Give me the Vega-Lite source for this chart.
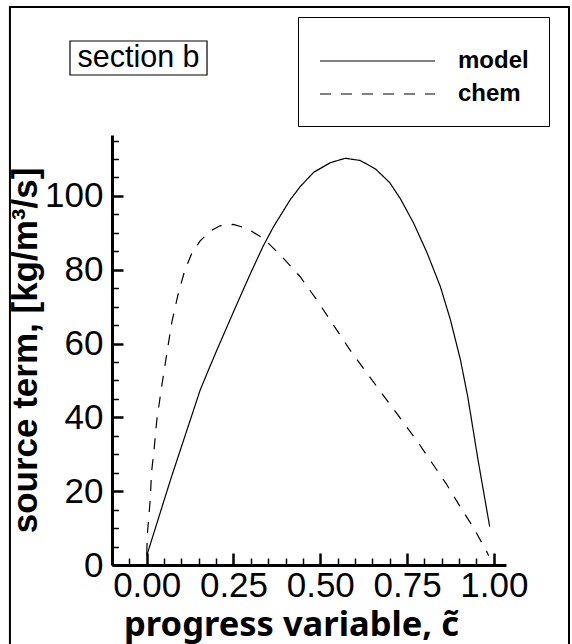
{
  "$schema": "https://vega.github.io/schema/vega-lite/v6.json",
  "width": 394,
  "height": 430,
  "autosize": {"type": "none"},
  "padding": {"left": 112, "top": 135, "right": 66, "bottom": 79},
  "background": "white",
  "config": {"view": {"stroke": null}, "font": "Liberation Sans"},
  "datasets": {
    "curves": [
      {"c": 0.0, "S": 2.5, "series": "model"},
      {"c": 0.07, "S": 23.5, "series": "model"},
      {"c": 0.154, "S": 47.4, "series": "model"},
      {"c": 0.18, "S": 53.3, "series": "model"},
      {"c": 0.202, "S": 58.2, "series": "model"},
      {"c": 0.25, "S": 68.6, "series": "model"},
      {"c": 0.298, "S": 78.8, "series": "model"},
      {"c": 0.336, "S": 86.5, "series": "model"},
      {"c": 0.365, "S": 91.6, "series": "model"},
      {"c": 0.413, "S": 98.9, "series": "model"},
      {"c": 0.442, "S": 102.5, "series": "model"},
      {"c": 0.481, "S": 106.4, "series": "model"},
      {"c": 0.529, "S": 109.0, "series": "model"},
      {"c": 0.572, "S": 110.2, "series": "model"},
      {"c": 0.615, "S": 109.6, "series": "model"},
      {"c": 0.659, "S": 107.3, "series": "model"},
      {"c": 0.7, "S": 103.6, "series": "model"},
      {"c": 0.731, "S": 99.2, "series": "model"},
      {"c": 0.769, "S": 92.6, "series": "model"},
      {"c": 0.808, "S": 84.5, "series": "model"},
      {"c": 0.846, "S": 75.4, "series": "model"},
      {"c": 0.875, "S": 66.4, "series": "model"},
      {"c": 0.904, "S": 55.5, "series": "model"},
      {"c": 0.925, "S": 45.5, "series": "model"},
      {"c": 0.954, "S": 28.7, "series": "model"},
      {"c": 0.988, "S": 10.4, "series": "model"},
      {"c": 0.0, "S": 3.0, "series": "chem"},
      {"c": 0.002, "S": 8.5, "series": "chem"},
      {"c": 0.01, "S": 17.5, "series": "chem"},
      {"c": 0.014, "S": 25.2, "series": "chem"},
      {"c": 0.021, "S": 31.1, "series": "chem"},
      {"c": 0.029, "S": 39.2, "series": "chem"},
      {"c": 0.043, "S": 48.3, "series": "chem"},
      {"c": 0.058, "S": 57.3, "series": "chem"},
      {"c": 0.072, "S": 65.6, "series": "chem"},
      {"c": 0.091, "S": 73.6, "series": "chem"},
      {"c": 0.11, "S": 79.9, "series": "chem"},
      {"c": 0.13, "S": 84.5, "series": "chem"},
      {"c": 0.154, "S": 87.8, "series": "chem"},
      {"c": 0.183, "S": 90.5, "series": "chem"},
      {"c": 0.211, "S": 91.9, "series": "chem"},
      {"c": 0.25, "S": 92.3, "series": "chem"},
      {"c": 0.288, "S": 91.2, "series": "chem"},
      {"c": 0.336, "S": 88.5, "series": "chem"},
      {"c": 0.385, "S": 84.0, "series": "chem"},
      {"c": 0.442, "S": 78.1, "series": "chem"},
      {"c": 0.49, "S": 71.8, "series": "chem"},
      {"c": 0.538, "S": 65.0, "series": "chem"},
      {"c": 0.586, "S": 58.2, "series": "chem"},
      {"c": 0.635, "S": 51.9, "series": "chem"},
      {"c": 0.682, "S": 45.9, "series": "chem"},
      {"c": 0.731, "S": 39.7, "series": "chem"},
      {"c": 0.781, "S": 33.3, "series": "chem"},
      {"c": 0.82, "S": 27.9, "series": "chem"},
      {"c": 0.863, "S": 22.0, "series": "chem"},
      {"c": 0.901, "S": 16.1, "series": "chem"},
      {"c": 0.94, "S": 10.3, "series": "chem"},
      {"c": 0.978, "S": 3.9, "series": "chem"},
      {"c": 0.985, "S": 2.5, "series": "chem"}
    ]
  },
  "resolve": {"axis": {"x": "independent", "y": "independent"}},
  "layer": [
    {
      "data": {"values": [{}]},
      "mark": {"type": "rect", "fill": null, "stroke": "black", "strokeWidth": 2},
      "encoding": {
        "x": {"datum": -0.394, "type": "quantitative", "scale": {"domain": [-0.1, 1.035]}, "axis": null},
        "x2": {"datum": 1.2165},
        "y": {"datum": 151.18, "type": "quantitative", "scale": {"domain": [0, 116.5]}, "axis": null},
        "y2": {"datum": -25.7}
      }
    },
    {
      "data": {"values": [{}]},
      "mark": {"type": "rect", "fill": null, "stroke": "black", "strokeWidth": 1.2},
      "encoding": {
        "x": {"datum": -0.221, "type": "quantitative", "scale": {"domain": [-0.1, 1.035]}, "axis": null},
        "x2": {"datum": 0.1737},
        "y": {"datum": 141.97, "type": "quantitative", "scale": {"domain": [0, 116.5]}, "axis": null},
        "y2": {"datum": 132.76}
      }
    },
    {
      "data": {"values": [{"label": "section b"}]},
      "mark": {"type": "text", "font": "Liberation Sans", "fontSize": 30.5, "align": "center", "baseline": "middle", "color": "black"},
      "encoding": {
        "x": {"datum": -0.0237, "type": "quantitative", "scale": {"domain": [-0.1, 1.035]}, "axis": null},
        "y": {"datum": 137.36, "type": "quantitative", "scale": {"domain": [0, 116.5]}, "axis": null},
        "text": {"field": "label"}
      }
    },
    {
      "data": {"name": "curves"},
      "mark": {"type": "line", "opacity": 0, "color": "black"},
      "encoding": {
        "x": {
          "field": "c", "type": "quantitative",
          "scale": {"domain": [-0.1, 1.035]},
          "axis": {
            "orient": "bottom",
            "values": [-0.05, 0.05, 0.1, 0.15, 0.2, 0.3, 0.35, 0.4, 0.45, 0.55, 0.6, 0.65, 0.7, 0.8, 0.85, 0.9, 0.95],
            "labels": false, "domain": false, "title": null, "grid": false,
            "tickSize": -7, "tickWidth": 1.5, "tickColor": "black"
          }
        },
        "y": {
          "field": "S", "type": "quantitative",
          "scale": {"domain": [0, 116.5]},
          "axis": {
            "orient": "left",
            "values": [5, 10, 15, 25, 30, 35, 45, 50, 55, 65, 70, 75, 85, 90, 95, 105, 110, 115],
            "labels": false, "domain": false, "title": null, "grid": false,
            "tickSize": -6.5, "tickWidth": 1.5, "tickColor": "black"
          }
        },
        "detail": {"field": "series"}
      }
    },
    {
      "data": {"name": "curves"},
      "mark": {"type": "line", "color": "black", "strokeWidth": 1.2},
      "encoding": {
        "x": {
          "field": "c", "type": "quantitative",
          "scale": {"domain": [-0.1, 1.035]},
          "axis": {
            "orient": "bottom",
            "values": [0, 0.25, 0.5, 0.75, 1],
            "format": ".2f",
            "grid": false,
            "domainColor": "black", "domainWidth": 3,
            "tickColor": "black", "tickWidth": 2.5, "tickSize": -12,
            "labelFont": "Liberation Sans", "labelFontSize": 35, "labelColor": "black",
            "labelPadding": 15, "labelFlush": false, "labelOverlap": false, "labelBound": false,
            "title": "progress variable, c̃",
            "titleFont": "Noto Sans", "titleFontSize": 34.5, "titleFontWeight": "bold", "titleColor": "black",
            "titlePadding": 5, "titleX": 179
          }
        },
        "y": {
          "field": "S", "type": "quantitative",
          "scale": {"domain": [0, 116.5]},
          "axis": {
            "orient": "left",
            "values": [0, 20, 40, 60, 80, 100],
            "grid": false,
            "domainColor": "black", "domainWidth": 3,
            "tickColor": "black", "tickWidth": 2.5, "tickSize": -11,
            "labelFont": "Liberation Sans", "labelFontSize": 35, "labelColor": "black",
            "labelPadding": 20, "labelFlush": false, "labelOverlap": false, "labelBound": false,
            "title": "source term, [kg/m³/s]",
            "titleFont": "Liberation Sans", "titleFontSize": 35, "titleFontWeight": "bold", "titleColor": "black",
            "titlePadding": 1
          }
        },
        "strokeDash": {
          "field": "series", "type": "nominal",
          "scale": {"domain": ["model", "chem"], "range": [[1, 0], [11, 10]]},
          "legend": {
            "orient": "none", "legendX": 186, "legendY": -118,
            "direction": "vertical",
            "title": " ", "titleFontSize": 10, "titlePadding": 5,
            "strokeColor": "black", "fillColor": "white", "padding": 19.5,
            "symbolType": "stroke", "symbolSize": 13225, "symbolStrokeWidth": 1, "symbolStrokeColor": "black",
            "symbolOffset": 2,
            "labelFont": "Liberation Sans", "labelFontSize": 24, "labelFontWeight": "bold", "labelColor": "black",
            "labelOffset": 22.5, "clipHeight": 19, "rowPadding": 8
          }
        }
      }
    }
  ]
}
